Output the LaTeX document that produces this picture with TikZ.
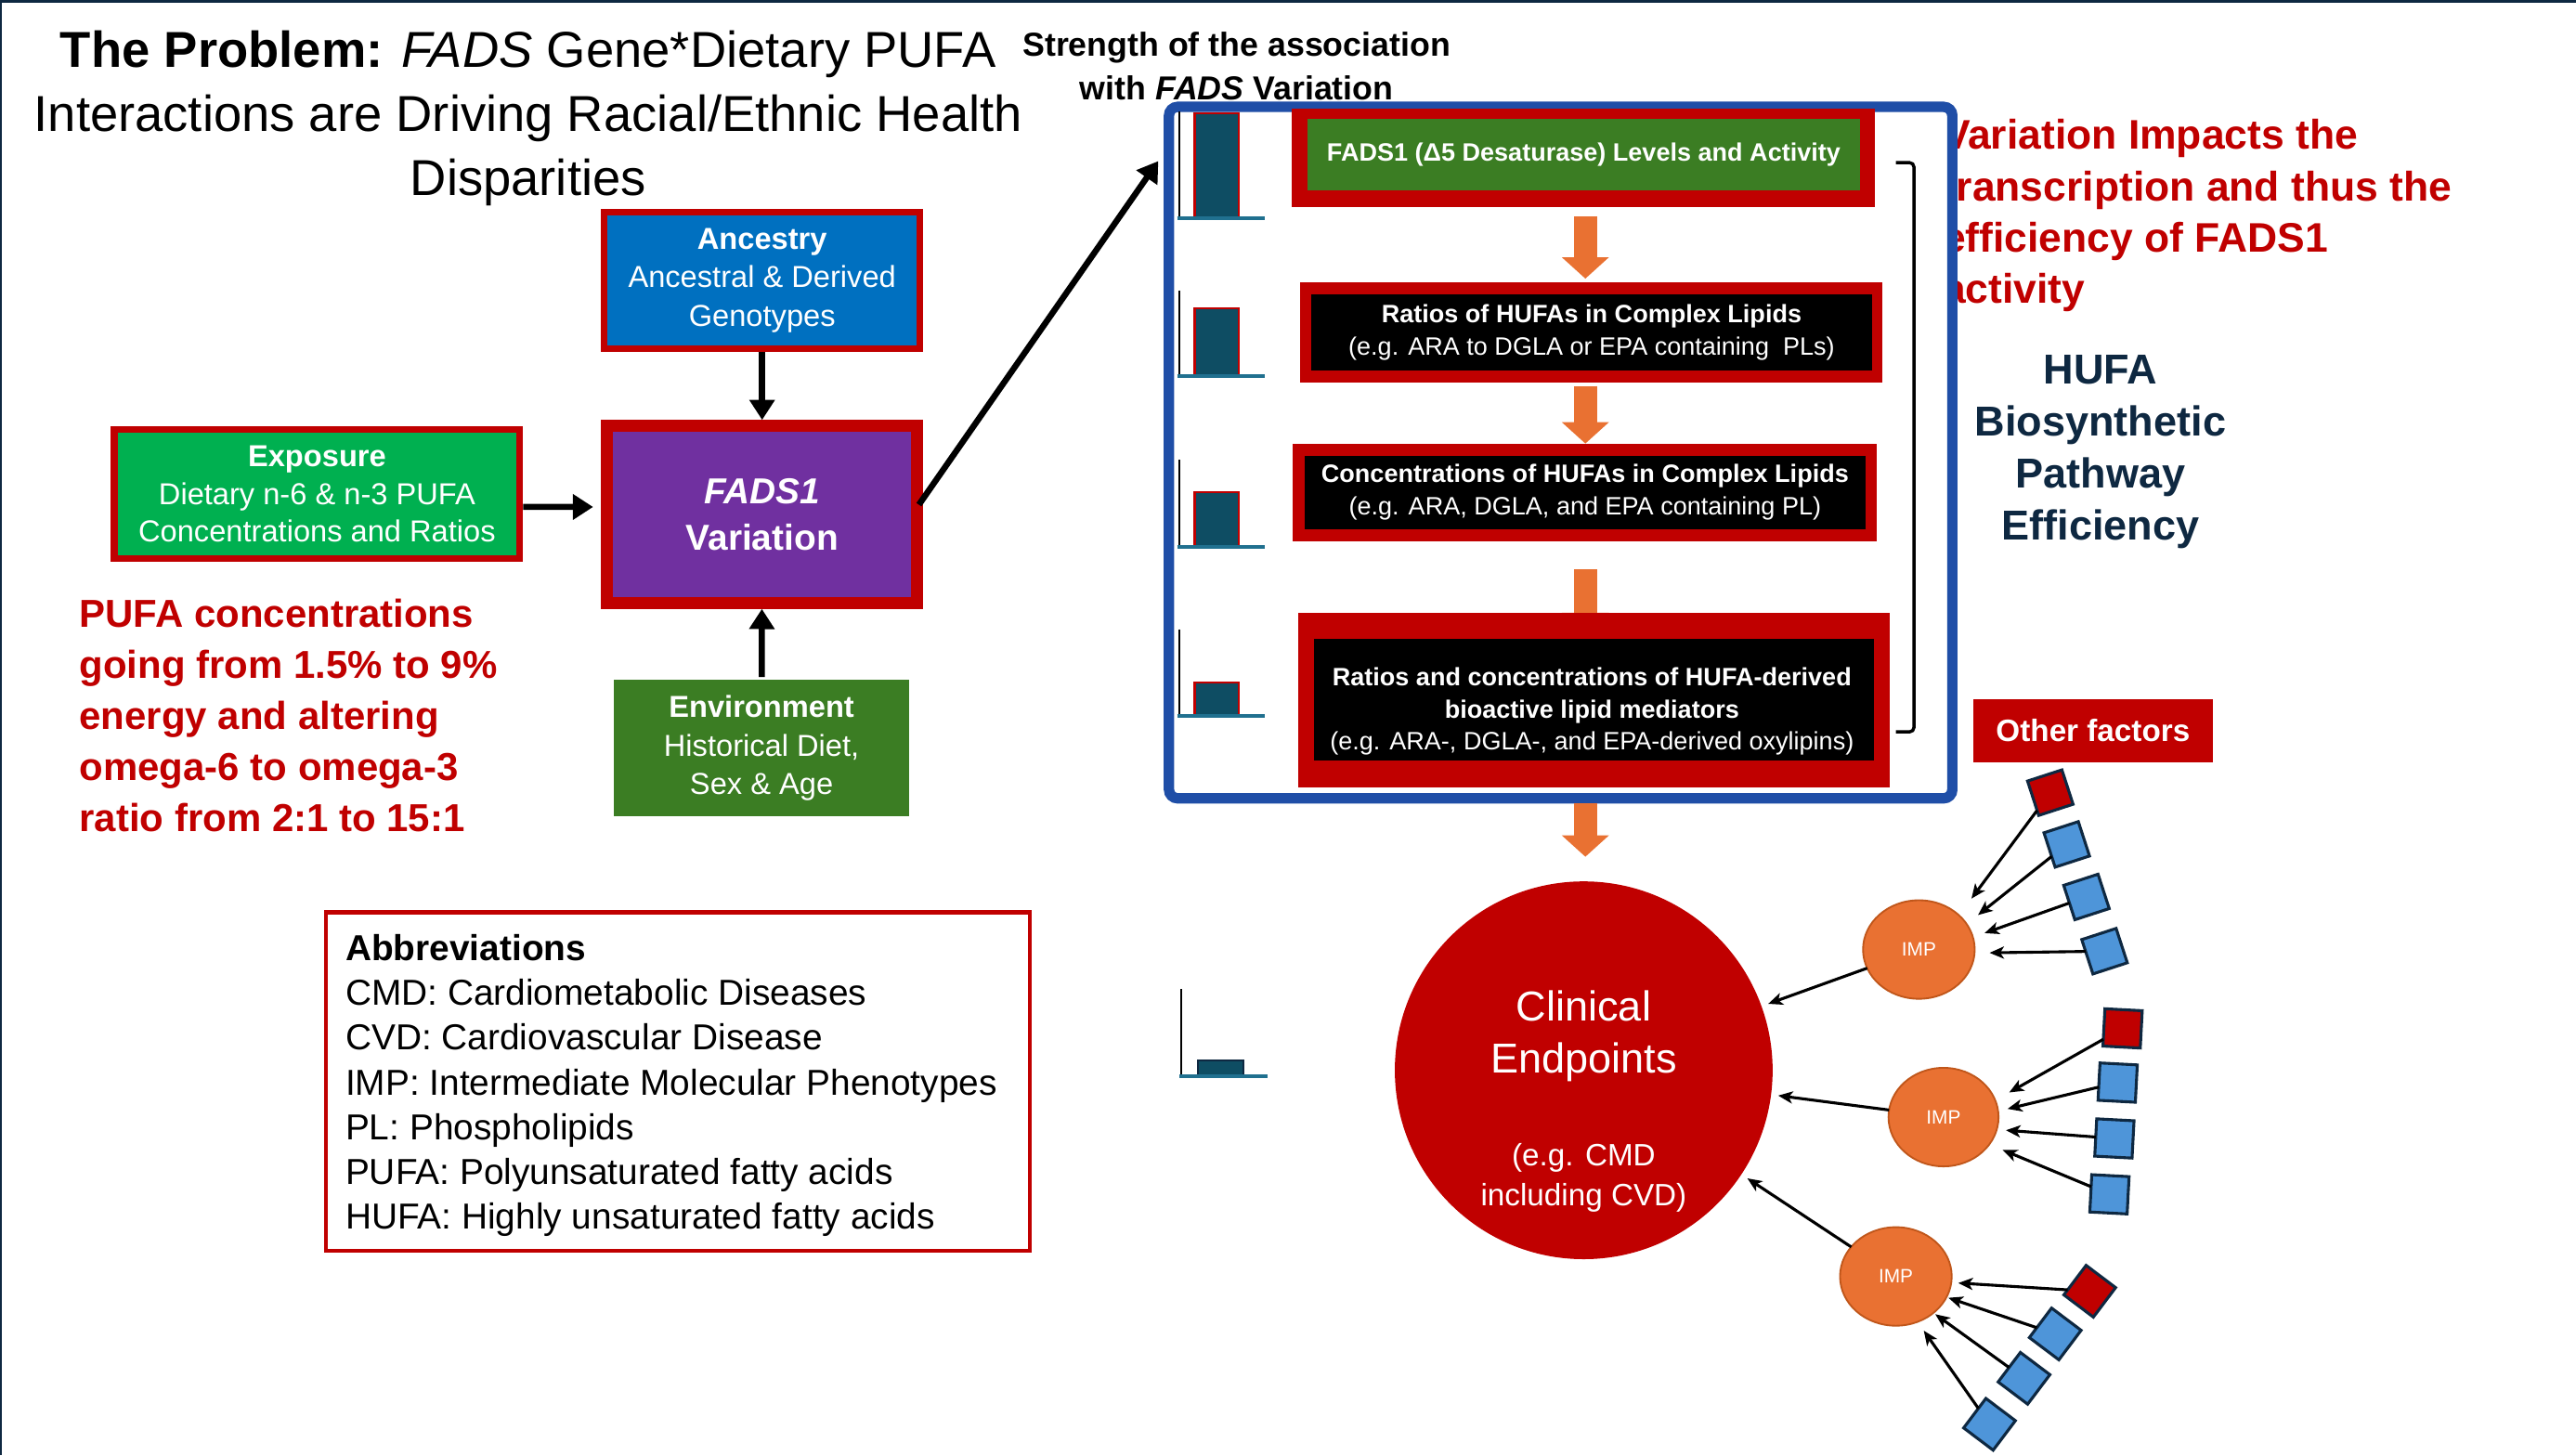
\documentclass[tikz,border=0pt]{standalone}
\usepackage{fontspec}
\setmainfont{Liberation Sans}
\usetikzlibrary{arrows.meta,calc,shapes.geometric}

\definecolor{cred}{HTML}{C00000}
\definecolor{cnavy}{HTML}{0E2841}
\definecolor{cboxblue}{HTML}{1F4EA7}
\definecolor{cblue}{HTML}{0070C0}
\definecolor{cpurple}{HTML}{7030A0}
\definecolor{cgreen}{HTML}{00B050}
\definecolor{cdgreen}{HTML}{3B7D23}
\definecolor{corange}{HTML}{E97132}
\definecolor{cimpb}{HTML}{C0561A}
\definecolor{csq}{HTML}{4E95D9}
\definecolor{cteal}{HTML}{0E4D63}
\definecolor{cbase}{HTML}{20708F}

\newcommand\fsz[2]{\fontsize{#1}{#2}\selectfont}

\pgfdeclarelayer{front}
\pgfsetlayers{main,front}

\begin{document}
\begin{tikzpicture}[x=0.02cm,y=-0.02cm,
  every node/.style={inner sep=0pt,outer sep=0pt},
  bigarrow/.style={line width=2.1pt,-{Triangle[length=7pt,width=8.5pt]}},
  oarrow/.style={draw=corange,line width=7.9pt,-{Triangle[length=7.4pt,width=15.9pt]}},
  thinarrow/.style={line width=1pt,-{Stealth[length=5pt,width=4.2pt,inset=1.3pt]}},
  lbox/.style={draw=cred,text=white,align=center},
  frame/.style={fill=cred},
  stepbox/.style={text=white,align=center,font=\fsz{8.7}{11.2}},
  sq/.style={draw=cnavy,line width=1pt,minimum size=0.44cm,fill=csq},
  imp/.style={ellipse,fill=corange,draw=cimpb,line width=0.6pt,minimum width=1.36cm,minimum height=1.2cm,text=white,font=\fsz{6.7}{8}},
  axisline/.style={line width=0.8pt},
  barbase/.style={draw=cbase,line width=1.3pt}]

\useasboundingbox (0,0) rectangle (1568,886);
\fill[white] (0,0) rectangle (1568,886);
% slide edge
\fill[cnavy] (0,0) rectangle (1568,1.5);
\fill[cnavy] (0,0) rectangle (1.2,886);

% heading
\node[align=center,font=\fsz{17.5}{22.2}] (title) at (321.5,72.2)
  {\textbf{The Problem:} \textit{FADS} Gene*Dietary PUFA\\Interactions are Driving Racial/Ethnic Health\\Disparities};
\node[align=center,font={\bfseries\fsz{11.5}{14.9}}] (strength) at (752.7,40.3)
  {Strength of the association\\with \textit{FADS} Variation};

% gene-diet interaction block
\node[lbox,fill=cblue,line width=2.27pt,minimum width=3.844cm,minimum height=1.67cm,font=\fsz{10.5}{13.4}] (anc) at (463.9,170.75)
  {\textbf{Ancestry}\\Ancestral \& Derived\\Genotypes};
\node[lbox,fill=cpurple,line width=4.1pt,minimum width=3.778cm,minimum height=2.16cm,font={\bfseries\fsz{12.5}{15.9}}] (fads) at (463.9,313.15)
  {\textit{FADS1}\\Variation};
\node[lbox,fill=cgreen,line width=2.27pt,minimum width=4.94cm,minimum height=1.572cm,font=\fsz{10.5}{13.1}] (exp) at (193,300.7)
  {\textbf{Exposure}\\Dietary n-6 \& n-3 PUFA\\Concentrations and Ratios};
\node[fill=cdgreen,text=white,align=center,minimum width=3.594cm,minimum height=1.66cm,font=\fsz{10.5}{13.4}] (env) at (463.55,455.5)
  {\textbf{Environment}\\Historical Diet,\\Sex \& Age};

\draw[bigarrow,shorten >=2pt,shorten <=1.1pt] (anc) -- (fads);
\draw[bigarrow,shorten >=2pt,shorten <=1.1pt] (env) -- (fads);
\draw[bigarrow,shorten >=4.8pt,shorten <=1.1pt] ($(exp.east)+(0,7.9)$) -- ($(fads.west)+(0,-4.55)$);

\node[anchor=west,align=left,text=cred,font={\bfseries\fsz{13.5}{17.7}}] (pufa) at (48.4,435.6)
  {PUFA concentrations\\going from 1.5\% to 9\%\\energy and altering\\omega-6 to omega-3\\ratio from 2:1 to 15:1};

% abbreviations
\node[draw=cred,line width=1.4pt,minimum width=8.57cm,minimum height=4.122cm] (abbr) at (412.5,658.3) {};
\node[anchor=west,align=left,font=\fsz{12.5}{15.5}] (abbrtext) at (210.3,660.8)
  {\textbf{Abbreviations}\\CMD: Cardiometabolic Diseases\\CVD: Cardiovascular Disease\\IMP: Intermediate Molecular Phenotypes\\PL: Phospholipids\\PUFA: Polyunsaturated fatty acids\\HUFA: Highly unsaturated fatty acids};

% note on the right, partly under the pathway frame
\node[anchor=west,align=left,text=cred,font={\bfseries\fsz{14.3}{17.8}}] (impact) at (1182.5,131.4)
  {Variation Impacts the\\transcription and thus the\\efficiency of FADS1\\activity};

% pathway frame
\node[draw=cboxblue,fill=white,line width=3.6pt,rounded corners=3pt,minimum width=9.538cm,minimum height=8.42cm] (pathbox) at (949.95,275.5) {};
\draw[bigarrow,shorten <=1pt] ($(fads.east)+(0,-4.5)$) -- ($(pathbox.north west)+(-6.5,33)$);

\coordinate (ax) at (965,0);

% pathway steps
\node[frame,minimum width=7.10cm,minimum height=1.20cm] (b1o) at (963.5,96) {};
\node[stepbox,fill=cdgreen,font={\bfseries\fsz{8.7}{11.2}},minimum width=6.72cm,minimum height=0.87cm] (b1) at (964,94.25)
  {FADS1 (Δ5 Desaturase) Levels and Activity};
\node[frame,minimum width=7.09cm,minimum height=1.224cm] (b2o) at (968.75,202.4) {};
\node[stepbox,fill=black,minimum width=6.832cm,minimum height=0.922cm] (b2) at (968.8,202.45)
  {\textbf{Ratios of HUFAs in Complex Lipids}\\(e.g. ARA to DGLA or EPA containing\ \ PLs)};
\node[frame,minimum width=7.108cm,minimum height=1.194cm] (b3o) at (964.7,299.85) {};
\node[stepbox,fill=black,minimum width=6.832cm,minimum height=0.89cm] (b3) at (964.8,299.75)
  {\textbf{Concentrations of HUFAs in Complex Lipids}\\(e.g. ARA, DGLA, and EPA containing PL)};
\begin{pgfonlayer}{front}
\node[frame,minimum width=7.208cm,minimum height=2.13cm] (b4o) at (970.2,426.25) {};
\node[fill=black,minimum width=6.818cm,minimum height=1.48cm] (b4) at (970.15,426) {};
\node[stepbox] (b4t) at (969,433)
  {\textbf{Ratios and concentrations of HUFA-derived}\\\textbf{bioactive lipid mediators}\\(e.g. ARA-, DGLA-, and EPA-derived oxylipins)};
\end{pgfonlayer}

\draw[oarrow] ($(b1o.south -| ax)+(0,5.6)$) -- ($(b2o.north -| ax)+(0,-2.2)$);
\draw[oarrow] ($(b2o.south -| ax)+(0,2)$) -- ($(b3o.north -| ax)+(0,0)$);
\draw[oarrow] ($(b3o.south -| ax)+(0,16.8)$) -- ($(b4o.north -| ax)+(0,13)$);

% association strength bars
\foreach \at/\bt/\bs in {68/69/133,176.7/187.7/229,280/299.6/333,383/415.5/436}{
  \draw[axisline] (718,\at) -- (718,\bs);
  \draw[fill=cteal,draw=cred,line width=0.8pt] (727.3,\bs) rectangle (754,\bt);
  \draw[barbase] (716.5,\bs) -- (770,\bs);
}
\draw[axisline] (719,602) -- (719,655);
\draw[fill=cteal,draw=cnavy,line width=0.6pt] (729,655) rectangle (757,645.3);
\draw[barbase] (718,655) -- (771.6,655);

% bracket
\draw[line width=1.1pt,rounded corners=1.5pt] (1154,99) -- (1165,99) -- (1165,445.5) -- (1154,445.5);

\node[align=center,text=cnavy,font={\bfseries\fsz{14.5}{18}}] (hufa) at (1278.5,274.9)
  {HUFA\\Biosynthetic\\Pathway\\Efficiency};

\node[fill=cred,text=white,font={\bfseries\fsz{10.7}{13}},minimum width=2.92cm,minimum height=0.768cm] (other) at (1274,444.8) {Other factors};

% clinical endpoints
\node[circle,fill=cred,minimum size=4.6cm] (clin) at (964,651.5) {};
\node[align=center,text=white,font=\fsz{14.5}{18}] (clint) at (964,630.6) {Clinical\\Endpoints};
\node[align=center,text=white,font=\fsz{10.7}{13.6}] (clinsub) at (964,717) {(e.g. CMD\\including CVD)};
\draw[oarrow] ($(pathbox.south -| ax)+(0,3.2)$) -- ($(clin.north -| ax)+(0,-15)$);

% intermediate phenotypes
\node[imp] (i1) at (1168,578) {IMP};
\node[imp,minimum width=1.34cm] (i2) at (1183,680) {IMP};
\node[imp] (i3) at (1154,777) {IMP};

\draw[thinarrow,shorten >=2.5pt] (i1) -- (clin);
\draw[thinarrow,shorten >=2.5pt] (i2) -- (clin);
\draw[thinarrow,shorten >=2.5pt] (i3) -- (clin);

% other factors, first group
\node[sq,fill=cred,rotate=18] (s11) at (1248,482.5) {};
\node[sq,rotate=18] (s12) at (1258,514) {};
\node[sq,rotate=18] (s13) at (1270,546) {};
\node[sq,rotate=18] (s14) at (1281,579) {};
\draw[thinarrow] (s11) -- ($(i1)+(32,-31)$);
\draw[thinarrow] (s12) -- ($(i1)+(36,-21)$);
\draw[thinarrow] (s13) -- ($(i1)+(40,-10)$);
\draw[thinarrow] (s14) -- ($(i1)+(43,2)$);

% second group
\node[sq,fill=cred,rotate=-3,minimum size=0.455cm] (s21) at (1292,626) {};
\node[sq,rotate=-3,minimum size=0.455cm] (s22) at (1289,659) {};
\node[sq,rotate=-3,minimum size=0.455cm] (s23) at (1287,693) {};
\node[sq,rotate=-3,minimum size=0.455cm] (s24) at (1284,727) {};
\draw[thinarrow] (s21) -- ($(i2)+(40,-15)$);
\draw[thinarrow] (s22) -- ($(i2)+(39,-5)$);
\draw[thinarrow] (s23) -- ($(i2)+(38,8)$);
\draw[thinarrow] (s24) -- ($(i2)+(36,20)$);

% third group
\node[sq,fill=cred,rotate=-37,minimum size=0.45cm] (s31) at (1272,786) {};
\node[sq,rotate=-37,minimum size=0.45cm] (s32) at (1251,812) {};
\node[sq,rotate=-37,minimum size=0.45cm] (s33) at (1232,839) {};
\node[sq,rotate=-37,minimum size=0.45cm] (s34) at (1211,867) {};
\draw[thinarrow] (s31) -- ($(i3)+(38,4)$);
\draw[thinarrow] (s32) -- ($(i3)+(32,13)$);
\draw[thinarrow] (s33) -- ($(i3)+(24,23)$);
\draw[thinarrow] (s34) -- ($(i3)+(17,33)$);

\end{tikzpicture}
\end{document}
